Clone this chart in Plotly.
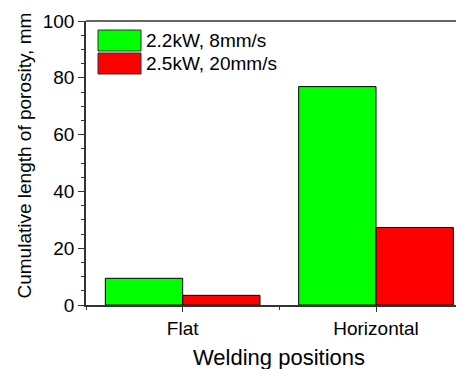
import plotly.graph_objects as go

categories = ["Flat", "Horizontal"]
series_names = ["2.2kW, 8mm/s", "2.5kW, 20mm/s"]
values_low = [9.4, 76.9]
values_high = [3.4, 27.3]
colors = ["#00FF00", "#FF0000"]
y_ticks = [0, 20, 40, 60, 80, 100]
x_title = "Welding positions"
y_title = "Cumulative length of porosity, mm"

xpos = list(range(len(categories)))
fig = go.Figure()
for name, vals, col in zip(series_names, [values_low, values_high], colors):
    fig.add_trace(go.Bar(x=xpos, y=vals, name=name,
                         marker=dict(color=col, line=dict(color="black", width=1)),
                         showlegend=False))

FONT = "Liberation Sans, Arial, sans-serif"
OFF = 8  # page body margin
W, H = 456, 361
ML, MT, MR, MB = 78, 13, 1, 64
PW, PH = W - ML - MR, H - MT - MB


def px(x):  # page pixel x -> paper
    return (x - OFF - ML) / PW


def py(y):  # page pixel y -> paper
    return 1 - (y - OFF - MT) / PH


fig.update_layout(
    width=W, height=H,
    margin=dict(l=ML, r=MR, t=MT, b=MB, autoexpand=False),
    plot_bgcolor="white", paper_bgcolor="white",
    barmode="group", bargap=0.2, bargroupgap=0,
    font=dict(family=FONT, color="black", size=19),
)
fig.update_xaxes(
    range=[-0.5, 1.45], tickvals=xpos, ticktext=categories,
    showline=True, linecolor="#333", linewidth=1.5,
    ticks="outside", ticklen=5, tickcolor="#333", tickwidth=1,
    minor=dict(tickvals=[-0.5, 0.5, 1.5], ticks="outside", ticklen=3, tickcolor="#333"),
    showgrid=False, zeroline=False,
    tickfont=dict(size=19),
)
fig.update_yaxes(
    range=[0, 100], tickvals=y_ticks,
    showline=True, linecolor="#333", linewidth=1.5,
    ticks="outside", ticklen=6, tickcolor="#333", tickwidth=1,
    minor=dict(dtick=5, ticks="outside", ticklen=3, tickcolor="#333"),
    showgrid=False, zeroline=False,
    tickfont=dict(size=19),
)
# top frame line only (no right spine)
fig.add_shape(type="line", xref="paper", yref="paper", x0=0, x1=1, y0=1, y1=1,
              line=dict(color="#333", width=1.5))

# axis titles
fig.add_annotation(xref="paper", yref="paper", x=px(279), y=py(357), text=x_title,
                   showarrow=False, xanchor="center", yanchor="middle",
                   font=dict(size=22, family=FONT))
fig.add_annotation(xref="paper", yref="paper", x=px(24), y=py(155.5), text=y_title,
                   showarrow=False, xanchor="center", yanchor="middle", textangle=-90,
                   font=dict(size=19, family=FONT))

# legend drawn as swatches + text
sw_x0, sw_x1 = 98, 141
rows = [(30, 51), (53, 74)]
for (y0, y1), name, col in zip(rows, series_names, colors):
    fig.add_shape(type="rect", xref="paper", yref="paper",
                  x0=px(sw_x0), x1=px(sw_x1), y0=py(y1), y1=py(y0),
                  fillcolor=col, line=dict(color="#333", width=1))
    fig.add_annotation(xref="paper", yref="paper", x=px(sw_x1 + 3), y=py((y0 + y1) / 2),
                       text=name, showarrow=False, xanchor="left", yanchor="middle",
                       font=dict(size=19, family=FONT))

fig.write_html("out.html")
